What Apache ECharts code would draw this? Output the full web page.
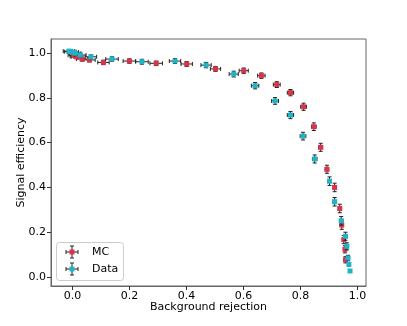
<!DOCTYPE html>
<html>
<head>
  <meta charset="UTF-8">
  <title>Signal efficiency vs background rejection</title>
  <script src="https://cdn.jsdelivr.net/npm/echarts@6/dist/echarts.min.js"></script>
  <style>
    html, body { margin: 0; padding: 0; background: #fff; }
    #chart { width: 407px; height: 326px; }
  </style>
</head>
<body>
<div id="chart"></div>
<script>
  // ---- data ----
  var mcX    = [0.005, 0.012, 0.016, 0.034, 0.060, 0.109, 0.200, 0.294, 0.401, 0.502, 0.601, 0.663,
                0.717, 0.765, 0.811, 0.847, 0.871, 0.893, 0.920, 0.938, 0.945, 0.952, 0.956, 0.958];
  var mcY    = [0.990, 0.985, 0.983, 0.973, 0.969, 0.958, 0.964, 0.954, 0.951, 0.929, 0.921, 0.899,
                0.859, 0.823, 0.760, 0.671, 0.579, 0.481, 0.400, 0.306, 0.232, 0.167, 0.124, 0.077];
  var mcXErr = [0.02, 0.02, 0.02, 0.02, 0.02, 0.02, 0.022, 0.022, 0.02, 0.018, 0.016, 0.013,
                0.012, 0.011, 0.01, 0.008, 0.007, 0.006, 0.006, 0.005, 0.005, 0.004, 0.004, 0.004];
  var mcYErr = [0.008, 0.008, 0.008, 0.009, 0.009, 0.01, 0.01, 0.01, 0.011, 0.011, 0.012, 0.012,
                0.013, 0.014, 0.016, 0.017, 0.018, 0.018, 0.019, 0.019, 0.019, 0.018, 0.016, 0.014];

  var dataX    = [-0.012, -0.007, 0.002, 0.010, 0.028, 0.065, 0.139, 0.244, 0.360, 0.469, 0.566, 0.641,
                  0.711, 0.765, 0.809, 0.850, 0.902, 0.920, 0.943, 0.958, 0.963, 0.967, 0.970, 0.974];
  var dataY    = [1.008, 1.006, 1.004, 0.999, 0.991, 0.983, 0.973, 0.961, 0.964, 0.946, 0.906, 0.854,
                  0.786, 0.723, 0.629, 0.527, 0.428, 0.336, 0.251, 0.182, 0.137, 0.085, 0.057, 0.027];
  var dataXErr = [0.02, 0.02, 0.02, 0.02, 0.02, 0.02, 0.022, 0.022, 0.02, 0.018, 0.016, 0.013,
                  0.012, 0.011, 0.01, 0.008, 0.007, 0.006, 0.006, 0.005, 0.004, 0.004, 0.003, 0.003];
  var dataYErr = [0.008, 0.008, 0.008, 0.008, 0.009, 0.009, 0.01, 0.011, 0.011, 0.012, 0.013, 0.014,
                  0.015, 0.016, 0.017, 0.018, 0.019, 0.019, 0.019, 0.018, 0.016, 0.012, 0.008, 0.006];

  var ticks = [0, 0.2, 0.4, 0.6, 0.8, 1.0];
  // ------------------------------------

  var RED = '#d9344a';
  var CYAN = '#20b4c9';
  var FONT = 'DejaVu Sans';

  function rows(xs, ys, xe, ye) {
    return xs.map(function (x, i) { return [x, ys[i], xe[i], ye[i]]; });
  }

  // x/y error bars with small caps, drawn through the axes
  function errRender(params, api) {
    var x = api.value(0), y = api.value(1), xe = api.value(2), ye = api.value(3);
    var l = api.coord([x - xe, y]), r = api.coord([x + xe, y]);
    var t = api.coord([x, y + ye]), b = api.coord([x, y - ye]);
    var c = 2;
    var st = { stroke: '#222', lineWidth: 1 };
    return {
      type: 'group',
      children: [
        { type: 'line', shape: { x1: l[0], y1: l[1], x2: r[0], y2: r[1] }, style: st },
        { type: 'line', shape: { x1: l[0], y1: l[1] - c, x2: l[0], y2: l[1] + c }, style: st },
        { type: 'line', shape: { x1: r[0], y1: r[1] - c, x2: r[0], y2: r[1] + c }, style: st },
        { type: 'line', shape: { x1: t[0], y1: t[1], x2: b[0], y2: b[1] }, style: st },
        { type: 'line', shape: { x1: t[0] - c, y1: t[1], x2: t[0] + c, y2: t[1] }, style: st },
        { type: 'line', shape: { x1: b[0] - c, y1: b[1], x2: b[0] + c, y2: b[1] }, style: st }
      ]
    };
  }

  // legend entry: errorbar glyph + label
  function legendEntry(cy, color, label) {
    var cx = 72, h = 6, c = 2;
    var st = { stroke: '#222', lineWidth: 1 };
    return [
      { type: 'line', shape: { x1: cx - h, y1: cy, x2: cx + h, y2: cy }, style: st },
      { type: 'line', shape: { x1: cx - h, y1: cy - c, x2: cx - h, y2: cy + c }, style: st },
      { type: 'line', shape: { x1: cx + h, y1: cy - c, x2: cx + h, y2: cy + c }, style: st },
      { type: 'line', shape: { x1: cx, y1: cy - h, x2: cx, y2: cy + h }, style: st },
      { type: 'line', shape: { x1: cx - c, y1: cy - h, x2: cx + c, y2: cy - h }, style: st },
      { type: 'line', shape: { x1: cx - c, y1: cy + h, x2: cx + c, y2: cy + h }, style: st },
      { type: 'rect', shape: { x: cx - 2.5, y: cy - 2.5, width: 5, height: 5 }, style: { fill: color } },
      { type: 'text', x: 92, y: cy, style: { text: label, fill: '#000', font: '11px "DejaVu Sans"', verticalAlign: 'middle' } }
    ];
  }

  var chart = echarts.init(document.getElementById('chart'), null, { renderer: 'canvas' });

  var axisCommon = {
    type: 'value',
    nameLocation: 'middle',
    nameMoveOverlap: false,
    nameTextStyle: { color: '#000', fontFamily: FONT, fontSize: 11 },
    axisLine: { show: true, onZero: false, lineStyle: { color: '#666', width: 1 } },
    axisTick: { show: true, length: 4, lineStyle: { color: '#333' }, customValues: ticks },
    axisLabel: {
      color: '#000', fontFamily: FONT, fontSize: 11, margin: 5,
      customValues: ticks,
      formatter: function (v) { return v.toFixed(1); }
    },
    splitLine: { show: false }
  };

  var option = {
    animation: false,
    backgroundColor: '#fff',
    grid: { left: 51, right: 41, top: 39, bottom: 40, show: true, borderColor: '#666', borderWidth: 1 },
    xAxis: Object.assign({}, axisCommon, {
      name: 'Background rejection', nameGap: 16,
      min: -0.075, max: 1.03
    }),
    yAxis: Object.assign({}, axisCommon, {
      name: 'Signal efficiency', nameGap: 24,
      min: -0.04, max: 1.0625
    }),
    series: [
      { type: 'custom', name: 'MC err', z: 2, renderItem: errRender, data: rows(mcX, mcY, mcXErr, mcYErr), silent: true },
      { type: 'scatter', name: 'MC', z: 3, symbol: 'rect', symbolSize: 5, itemStyle: { color: RED, opacity: 1 },
        data: mcX.map(function (x, i) { return [x, mcY[i]]; }) },
      { type: 'custom', name: 'Data err', z: 4, renderItem: errRender, data: rows(dataX, dataY, dataXErr, dataYErr), silent: true },
      { type: 'scatter', name: 'Data', z: 5, symbol: 'rect', symbolSize: 5, itemStyle: { color: CYAN, opacity: 1 },
        data: dataX.map(function (x, i) { return [x, dataY[i]]; }) }
    ],
    graphic: [{
      type: 'group', z: 100, silent: true,
      children: [
        { type: 'rect', shape: { x: 56.5, y: 242.5, width: 67, height: 38, r: 3 },
          style: { fill: 'rgba(255,255,255,0.8)', stroke: '#cccccc', lineWidth: 1 } }
      ].concat(legendEntry(252, RED, 'MC'), legendEntry(269, CYAN, 'Data'))
    }]
  };

  chart.setOption(option);
</script>
</body>
</html>
